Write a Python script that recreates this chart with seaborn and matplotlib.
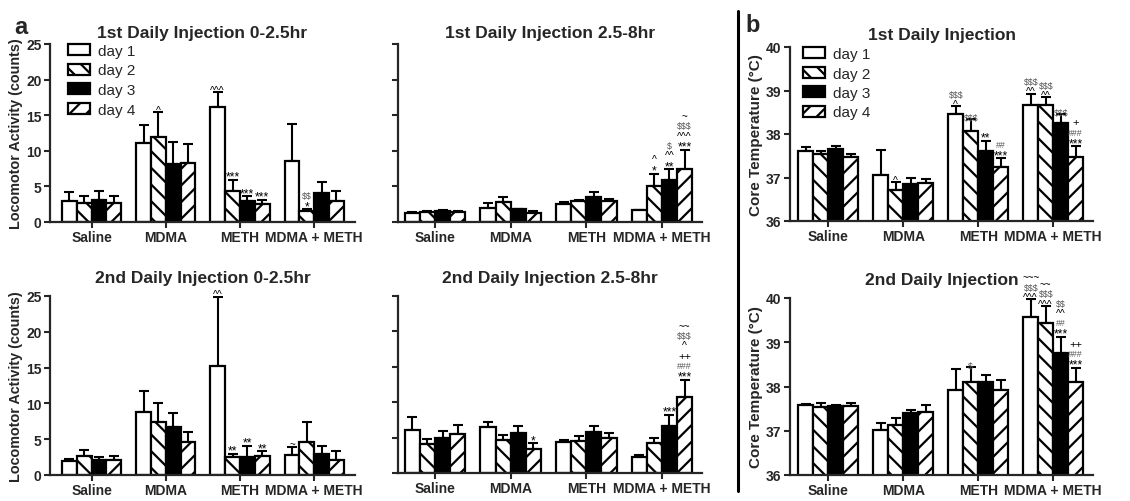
import numpy as np
import pandas as pd
import matplotlib
matplotlib.use('Agg')
import matplotlib.pyplot as plt
import matplotlib.patches as mpatches
from matplotlib.lines import Line2D
import seaborn as sns

groups = ['Saline', 'MDMA', 'METH', 'MDMA + METH']
days = ['day 1', 'day 2', 'day 3', 'day 4']

# rows = day 1..4, columns = groups
loco_1st_early_mean = [[3.0, 11.1, 16.1, 8.5], [2.7, 12.0, 4.4, 1.5], [3.1, 8.1, 3.0, 4.1], [2.65, 8.3, 2.5, 3.0]]
loco_1st_early_sem = [[1.2, 2.5, 2.1, 5.2], [0.9, 3.4, 1.5, 0.3], [1.2, 3.1, 0.6, 1.5], [0.95, 2.7, 0.6, 1.4]]

loco_1st_late_mean = [[1.3, 1.95, 2.55, 1.65], [1.4, 2.8, 3.0, 5.0], [1.5, 1.8, 3.5, 5.9], [1.35, 1.3, 2.95, 7.4]]
loco_1st_late_sem = [[0.1, 0.65, 0.3, 0.1], [0.1, 0.7, 0.1, 1.75], [0.2, 0.05, 0.7, 1.5], [0.2, 0.2, 0.35, 2.7]]

temp_1st_mean = [[37.6, 37.06, 38.45, 38.66], [37.53, 36.71, 38.07, 38.67], [37.66, 36.86, 37.61, 38.25], [37.48, 36.88, 37.23, 37.46]]
temp_1st_sem = [[0.1, 0.57, 0.19, 0.27], [0.08, 0.19, 0.28, 0.18], [0.06, 0.14, 0.23, 0.21], [0.05, 0.09, 0.21, 0.26]]

loco_2nd_early_mean = [[1.95, 8.75, 15.25, 2.85], [2.7, 7.45, 2.45, 4.65], [2.15, 6.75, 2.55, 3.0], [2.05, 4.65, 2.6, 2.15]]
loco_2nd_early_sem = [[0.35, 3.0, 9.65, 1.1], [0.8, 2.55, 0.55, 2.7], [0.35, 1.85, 1.55, 1.1], [0.65, 1.4, 0.7, 1.15]]

loco_2nd_late_mean = [[6.05, 6.5, 4.4, 2.3], [4.1, 4.6, 4.5, 4.25], [4.9, 5.7, 5.8, 6.7], [5.55, 3.45, 5.0, 10.8]]
loco_2nd_late_sem = [[1.85, 0.75, 0.3, 0.2], [0.7, 0.8, 0.7, 0.75], [1.1, 0.9, 0.8, 1.5], [1.25, 0.75, 0.6, 2.4]]

temp_2nd_mean = [[37.58, 37.02, 37.92, 39.57], [37.53, 37.12, 38.1, 39.44], [37.57, 37.4, 38.1, 38.76], [37.55, 37.42, 37.93, 38.1]]
temp_2nd_sem = [[0.03, 0.15, 0.48, 0.4], [0.09, 0.16, 0.34, 0.38], [0.02, 0.08, 0.17, 0.36], [0.08, 0.17, 0.21, 0.32]]

# significance marks: (group index, day index) -> lines from bottom to top
notes_1st_early = {(1, 1): ['^'], (2, 0): ['^^^'], (2, 1): ['***'], (2, 2): ['***'], (2, 3): ['***'], (3, 1): ['*', '$$']}
notes_1st_late = {(3, 1): ['*', '^'], (3, 2): ['**', '^^', '$'], (3, 3): ['***', '^^^', '$$$', '~']}
notes_temp_1st = {(1, 1): ['^'], (2, 0): ['^', '$$$'], (2, 1): ['$$$'], (2, 2): ['**'], (2, 3): ['***', '##'],
                  (3, 0): ['^^', '$$$'], (3, 1): ['^^', '$$$'], (3, 2): ['$$$'], (3, 3): ['***', '###', '+']}
notes_2nd_early = {(2, 0): ['^^'], (2, 1): ['**'], (2, 2): ['**'], (2, 3): ['**'], (3, 0): ['~']}
notes_2nd_late = {(1, 3): ['*'], (3, 2): ['***'], (3, 3): ['***', '###', '++', '^', '$$$', '~~']}
notes_temp_2nd = {(2, 1): ['$'], (3, 0): ['^^^', '$$$', '~~~'], (3, 1): ['^^^', '$$$', '~~'],
                  (3, 2): ['***', '##', '^^', '$$'], (3, 3): ['***', '###', '++']}

sns.set_style('ticks')
plt.rcParams['font.family'] = ['Liberation Sans', 'DejaVu Sans']
plt.rcParams['hatch.linewidth'] = 1.6
plt.rcParams['axes.linewidth'] = 1.6

W, H = 1130, 502
fig = plt.figure(figsize=(W / 100, H / 100), dpi=100)
renderer = fig.canvas.get_renderer()

face = ['white', 'white', 'black', 'white']
hatches = [None, '\\\\', None, '//']
mark_size = {'*': 8.8, '^': 7.5, '~': 7.0, '+': 8.0, '$': 6.3, '#': 6.3}


def pos(x0, x1, ytop, ybot):
    return [x0 / W, 1 - ybot / H, (x1 - x0) / W, (ybot - ytop) / H]


def draw(rect, mean, sem, notes, ylim, yticks, title, ylabel, ylabel_size, ticklabels, xlim, title_pad,
         legend_at=None):
    ax = fig.add_axes(rect)
    df = pd.DataFrame({'group': np.tile(groups, 4), 'day': np.repeat(days, 4),
                       'value': np.ravel(mean)})
    sns.barplot(data=df, x='group', y='value', hue='day', order=groups, hue_order=days,
                palette=face, edgecolor='black', linewidth=1.6, errorbar=None, width=0.8,
                saturation=1, legend=False, ax=ax)
    sem = np.asarray(sem)
    mean = np.asarray(mean)
    bar_conts = list(ax.containers)[:4]
    for d, cont in enumerate(bar_conts):
        xs = []
        for g, bar in enumerate(cont):
            if hatches[d]:
                bar.set_hatch(hatches[d])
            xs.append(bar.get_x() + bar.get_width() / 2)
        ax.errorbar(xs, mean[d], yerr=[np.zeros(4), sem[d]], fmt='none', ecolor='black',
                    elinewidth=1.5, capsize=3.5, capthick=1.5, zorder=0.5)
        for g in range(4):
            lines = notes.get((g, d), [])
            top = mean[d][g] + sem[d][g]
            off = -2.0
            for s in lines:
                grey = s[0] in '$#'
                t = ax.annotate(s, xy=(xs[g], top), xytext=(0, off), textcoords='offset points',
                                ha='center', va='bottom', fontsize=mark_size[s[0]],
                                color='#555555' if grey else 'black', annotation_clip=False,
                                parse_math=False)
                hgt = t.get_window_extent(renderer).height * 72 / fig.dpi
                off += hgt + 0.2
    ax.set_ylim(*ylim)
    ax.set_yticks(yticks)
    ax.set_xlim(*xlim)
    ax.set_xlabel('')
    ax.set_ylabel(ylabel, fontsize=ylabel_size, fontweight='bold', labelpad=2)
    sns.despine(ax=ax)
    ax.tick_params(axis='both', width=1.5, length=4, labelsize=10, pad=2)
    for lab in ax.get_xticklabels():
        lab.set_fontweight('bold')
    if ticklabels:
        for lab in ax.get_yticklabels():
            lab.set_fontweight('bold')
    else:
        ax.set_yticklabels([])
    ax.set_title(title, fontsize=12.5, fontweight='bold', pad=title_pad)
    if legend_at is not None:
        handles = [mpatches.Patch(facecolor=face[i], edgecolor='black', hatch=hatches[i], linewidth=1.6)
                   for i in range(4)]
        ax.legend(handles, days, loc='upper left', bbox_to_anchor=legend_at, frameon=False,
                  borderpad=0, borderaxespad=0, handlelength=1.45, handleheight=0.75,
                  labelspacing=0.36, handletextpad=0.5, fontsize=11)
    return ax


loco_ticks = [0, 5, 10, 15, 20, 25]
temp_ticks = [36, 37, 38, 39, 40]
loco_label = 'Locomotor Activity (counts)'
temp_label = 'Core Temperature (\u00b0C)'

draw(pos(50, 355, 45, 223), loco_1st_early_mean, loco_1st_early_sem, notes_1st_early, (0, 25), loco_ticks,
     '1st Daily Injection 0-2.5hr', loco_label, 10.4, True, (-0.56, 3.55), 5, legend_at=(0.06, 1.0))
draw(pos(398, 702, 45, 223), loco_1st_late_mean, loco_1st_late_sem, notes_1st_late, (0, 25), loco_ticks,
     '1st Daily Injection 2.5-8hr', '', 10.4, False, (-0.49, 3.53), 5)
draw(pos(790, 1093, 48, 222), temp_1st_mean, temp_1st_sem, notes_temp_1st, (36, 40), temp_ticks,
     '1st Daily Injection', temp_label, 11, True, (-0.51, 3.53), 6, legend_at=(0.043, 1.0))
draw(pos(50, 355, 297, 476), loco_2nd_early_mean, loco_2nd_early_sem, notes_2nd_early, (0, 25), loco_ticks,
     '2nd Daily Injection 0-2.5hr', loco_label, 10.4, True, (-0.56, 3.55), 10)
draw(pos(398, 702, 297, 474), loco_2nd_late_mean, loco_2nd_late_sem, notes_2nd_late, (0, 25), loco_ticks,
     '2nd Daily Injection 2.5-8hr', '', 10.4, False, (-0.49, 3.53), 10)
draw(pos(790, 1093, 299, 476), temp_2nd_mean, temp_2nd_sem, notes_temp_2nd, (36, 40), temp_ticks,
     '2nd Daily Injection', temp_label, 11, True, (-0.51, 3.53), 10)

fig.text(14 / W, 1 - 27 / H, 'a', fontsize=17, fontweight='bold', va='center', ha='left')
fig.text(745 / W, 1 - 26 / H, 'b', fontsize=17, fontweight='bold', va='center', ha='left')
fig.add_artist(Line2D([738 / W, 738 / W], [1 - 12 / H, 1 - 492 / H], color='black', linewidth=2.2))

fig.savefig('out.png', dpi=100)
